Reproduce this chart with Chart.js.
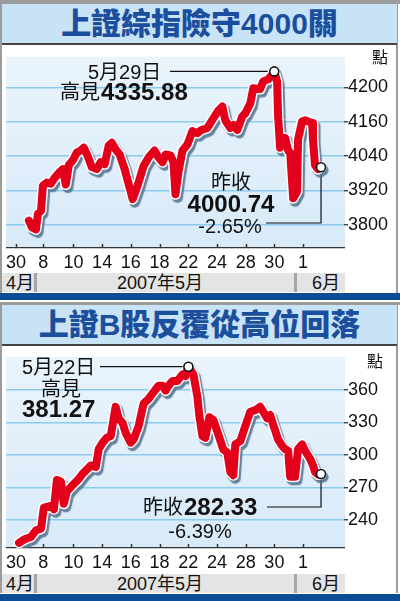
<!DOCTYPE html>
<html>
<head>
<meta charset="utf-8">
<script src="https://cdn.jsdelivr.net/npm/chart.js@4"></script>
<style>
  body { margin: 0; background: #fff; }
  #page { position: relative; width: 400px; height: 601px; overflow: hidden; background: #fff;
          font-family: "Liberation Sans", "Noto Sans CJK TC", sans-serif; color: #111; }
  .edge { position: absolute; background: #9c9c9c; }
  .title { position: absolute; left: 2px; width: 395px; height: 39px; background: #c8e3f6;
           border-bottom: 2px solid #444; color: #1b4e9c; font-weight: 900; font-size: 30px;
           line-height: 40px; text-align: center; white-space: nowrap; }
  canvas { position: absolute; left: 0; }
  .months { position: absolute; left: 2px; width: 343px; height: 19px; background: #e4e4e4;
            font-size: 18px; line-height: 20px; }
  .months span { position: absolute; top: 0; transform: translateX(-50%); white-space: nowrap; }
  .months i { position: absolute; top: 0; width: 3px; height: 19px; background: #a5a5a5; }
  .bar { position: absolute; left: 0; width: 400px; height: 7px; background: #0d4b97; }
</style>
</head>
<body>
<div id="page">
  <div class="edge" style="left:0;top:0;width:400px;height:4px"></div>
  <div class="edge" style="left:0;top:0;width:2px;height:293px"></div>
  <div class="edge" style="left:396px;top:0;width:2px;height:293px"></div>
  <div class="title" style="top:4px">上證綜指險守4000關</div>
  <canvas id="comp-chart" width="400" height="226" style="top:46px"></canvas>
  <div class="months" style="top:273px">
    <span style="left:18px">4月</span><i style="left:32px"></i>
    <span style="left:158px">2007年5月</span><i style="left:292px"></i>
    <span style="left:324px">6月</span>
  </div>
  <div class="bar" style="top:293px"></div>

  <div class="edge" style="left:0;top:302px;width:400px;height:3px"></div>
  <div class="edge" style="left:0;top:302px;width:2px;height:291px"></div>
  <div class="edge" style="left:396px;top:302px;width:2px;height:291px"></div>
  <div class="title" style="top:305px">上證B股反覆從高位回落</div>
  <canvas id="b-chart" width="400" height="226" style="top:346px"></canvas>
  <div class="months" style="top:574px">
    <span style="left:18px">4月</span><i style="left:32px"></i>
    <span style="left:158px">2007年5月</span><i style="left:292px"></i>
    <span style="left:324px">6月</span>
  </div>
  <div class="bar" style="top:594px"></div>
</div>

<script>
// 上證綜指 / 上證B股 - 2007年4月30日至6月1日走勢

// x axis: position in trading days, ticks and their labels
const xTickPos = [0, 1.9, 4, 6, 8, 10, 12, 14, 16, 18, 20];
const xTickLabels = ['30', '8', '10', '14', '16', '18', '22', '24', '28', '30', '1'];

// 上證綜指
const compDays = [0.90, 1.11, 1.39, 1.53, 1.74, 1.875, 2.15, 2.43, 2.64, 2.99,
  3.26, 3.47, 3.68, 3.96, 4.24, 4.51, 4.72, 5.0, 5.28, 5.63,
  5.90, 6.18, 6.46, 6.67, 6.94, 7.22, 7.57, 8.13, 8.47, 8.89,
  9.24, 9.65, 9.93, 10.21, 10.42, 10.76, 10.97, 11.11, 11.32, 11.60,
  11.94, 12.29, 12.64, 12.92, 13.33, 13.75, 14.10, 14.38, 14.58, 14.93,
  15.14, 15.42, 15.76, 15.97, 16.32, 16.53, 17.01, 17.22, 17.57, 17.85,
  17.99, 18.19, 18.26, 18.40, 18.75, 18.96, 19.10, 19.31, 19.58, 19.65,
  19.93, 20.14, 20.35, 20.63, 20.69, 20.83, 21.04, 21.25];
const compValues = [3814, 3790, 3783, 3838, 3848, 3936, 3947, 3943, 3960, 3981,
  3994, 3940, 4008, 4025, 4052, 4059, 4069, 4039, 4001, 3994,
  4018, 4011, 4076, 4086, 4063, 4045, 3994, 3889, 3936, 4005,
  4035, 4059, 4035, 4018, 4045, 4042, 4018, 3906, 3984, 4059,
  4080, 4127, 4120, 4131, 4138, 4172, 4199, 4213, 4165, 4138,
  4148, 4131, 4178, 4189, 4223, 4277, 4274, 4301, 4308, 4325,
  4335.88, 4301, 4178, 4069, 4103, 4059, 4052, 3892, 3916, 4097,
  4161, 4165, 4161, 4155, 4097, 4008, 3994, 4000.74];
const compTicks = [3800, 3920, 4040, 4160, 4280];
const compTickLabels = ['3800', '3920', '4040', '4160', '4200'];

// 上證B股指數
const bDays = [0.21, 0.56, 1.04, 1.39, 1.74, 1.94, 2.43, 2.64, 2.85, 3.13,
  3.33, 3.54, 3.96, 4.31, 4.65, 5.0, 5.21, 5.56, 5.76, 6.04,
  6.32, 6.60, 6.94, 7.15, 7.43, 7.64, 7.99, 8.19, 8.54, 8.89,
  9.24, 9.58, 9.93, 10.21, 10.42, 10.63, 10.90, 11.25, 11.60, 11.81,
  12.01, 12.36, 12.64, 12.78, 12.99, 13.19, 13.47, 13.75, 14.10, 14.44,
  14.72, 14.93, 15.14, 15.28, 15.63, 15.97, 16.32, 16.67, 17.01, 17.22,
  17.5, 17.71, 17.92, 18.26, 18.54, 18.75, 18.96, 19.10, 19.44, 19.65,
  19.93, 20.14, 20.49, 20.69, 20.83, 21.04, 21.25];
const bValues = [219.0, 222.0, 224.4, 230.4, 231.9, 251.3, 252.9, 249.9, 276.9, 275.3,
  254.9, 266.3, 272.4, 276.9, 282.8, 287.3, 290.3, 288.8, 305.3, 311.3,
  315.8, 317.3, 344.3, 333.7, 329.3, 320.3, 311.3, 314.2, 326.3, 347.2,
  351.7, 357.8, 363.7, 363.7, 359.2, 363.7, 368.2, 368.2, 374.2, 372.7,
  381.27, 374.2, 353.3, 335.3, 317.3, 315.8, 334.7, 332.2, 318.7, 305.0,
  302.3, 284.3, 281.3, 309.7, 312.8, 326.3, 339.8, 341.2, 344.3, 339.8,
  333.7, 336.7, 327.7, 314.2, 308.3, 305.3, 303.8, 279.8, 279.8, 305.3,
  309.7, 303.8, 296.3, 290.3, 284.3, 281.9, 282.33];
const bTicks = [240, 270, 300, 330, 360];
const bTickLabels = ['240', '270', '300', '330', '360'];

const FONT = '"Liberation Sans", "Noto Sans CJK TC", sans-serif';
Chart.defaults.font.family = FONT;
Chart.defaults.color = '#111';

function peakIndex(values) {
  return values.indexOf(Math.max(...values));
}

// draw a text, return its width
function text(ctx, str, x, y, align, bold) {
  ctx.save();
  ctx.font = (bold ? 'bold 24px ' : '20px ') + FONT;
  ctx.fillStyle = '#111';
  ctx.textAlign = align;
  ctx.textBaseline = 'middle';
  ctx.fillText(str, x, y);
  const w = ctx.measureText(str).width;
  ctx.restore();
  return w;
}

function connector(ctx, pts) {
  ctx.save();
  ctx.strokeStyle = '#111';
  ctx.lineWidth = 1.2;
  ctx.beginPath();
  pts.forEach(([x, y], i) => (i ? ctx.lineTo(x, y) : ctx.moveTo(x, y)));
  ctx.stroke();
  ctx.restore();
}

function anchors(chart, days, values) {
  const { x, y } = chart.scales;
  const hi = peakIndex(values);
  const last = values.length - 1;
  return {
    hi, last,
    hx: x.getPixelForValue(days[hi]), hy: y.getPixelForValue(values[hi]),
    lx: x.getPixelForValue(days[last]), ly: y.getPixelForValue(values[last])
  };
}

// notes for 上證綜指
function compNotes(chart, phase) {
  const ctx = chart.ctx;
  const a = anchors(chart, compDays, compValues);
  if (phase === 'lines') {
    connector(ctx, [[170, a.hy], [a.hx, a.hy]]);
    connector(ctx, [[a.lx, a.ly], [a.lx, 177], [266, 177]]);
    return;
  }
  text(ctx, '5月29日', 88, 27, 'left', false);
  const w = text(ctx, '高見', 60, 47, 'left', false);
  text(ctx, compValues[a.hi].toFixed(2), 60 + w + 1, 47, 'left', true);
  text(ctx, '昨收', 231, 137, 'center', false);
  text(ctx, compValues[a.last].toFixed(2), 231, 159, 'center', true);
  text(ctx, '-2.65%', 230, 181, 'center', false);
}

// notes for 上證B股
function bNotes(chart, phase) {
  const ctx = chart.ctx;
  const a = anchors(chart, bDays, bValues);
  if (phase === 'lines') {
    connector(ctx, [[100, a.hy], [a.hx, a.hy]]);
    connector(ctx, [[267, 161], [a.lx, 161], [a.lx, a.ly]]);
    return;
  }
  text(ctx, '5月22日', 22, 22, 'left', false);
  text(ctx, '高見', 61, 44, 'center', false);
  text(ctx, bValues[a.hi].toFixed(2), 22, 64, 'left', true);
  const w = text(ctx, '昨收', 143, 162, 'left', false);
  text(ctx, bValues[a.last].toFixed(2), 143 + w + 1, 162, 'left', true);
  text(ctx, '-6.39%', 200, 186, 'center', false);
}

// background, inward x ticks, line shadow, unit and notes
function makeDecor(notes, unitPos) {
  return {
    id: 'decor',
    beforeDraw(chart) {
      const { ctx, chartArea: a } = chart;
      const g = ctx.createLinearGradient(0, a.top, 0, a.bottom);
      g.addColorStop(0, '#e9f4fc');
      g.addColorStop(1, '#d8eaf8');
      ctx.save();
      ctx.fillStyle = g;
      ctx.fillRect(a.left, a.top, a.right - a.left + 1, a.bottom - a.top);
      ctx.restore();
    },
    beforeDatasetsDraw(chart) {
      const { ctx, chartArea: a, scales } = chart;
      ctx.save();
      ctx.strokeStyle = '#333';
      ctx.lineWidth = 1.5;
      xTickPos.forEach(v => {
        const px = Math.round(scales.x.getPixelForValue(v)) + 0.5;
        ctx.beginPath();
        ctx.moveTo(px, a.bottom);
        ctx.lineTo(px, a.bottom - 4);
        ctx.stroke();
      });
      ctx.restore();
      notes(chart, 'lines');
    },
    beforeDatasetDraw(chart, args) {
      if (!chart.data.datasets[args.index].halo) return;
      const ctx = chart.ctx;
      ctx.save();
      ctx.shadowColor = 'rgba(80, 110, 140, 0.85)';
      ctx.shadowOffsetX = 2;
      ctx.shadowOffsetY = 3;
      ctx.shadowBlur = 1;
    },
    afterDatasetDraw(chart, args) {
      if (chart.data.datasets[args.index].halo) chart.ctx.restore();
    },
    afterDraw(chart) {
      const ctx = chart.ctx;
      ctx.save();
      ctx.font = '16px "Noto Sans CJK TC", sans-serif';
      ctx.fillStyle = '#111';
      ctx.textAlign = 'center';
      ctx.textBaseline = 'middle';
      ctx.fillText('點', unitPos[0], unitPos[1]);
      ctx.restore();
      notes(chart, 'text');
    }
  };
}

function makeChart(id, days, values, ticks, tickLabels, yMin, yMax, notes, unitPos) {
  const points = days.map((d, i) => ({ x: d, y: values[i] }));
  const marks = [peakIndex(values), values.length - 1];

  return new Chart(document.getElementById(id), {
    type: 'line',
    data: {
      datasets: [
        {
          label: 'halo',
          halo: true,
          data: points,
          borderColor: '#ffffff',
          borderWidth: 11,
          pointRadius: 0,
          order: 2
        },
        {
          label: 'index',
          data: points,
          borderColor: '#e2001a',
          borderWidth: 8,
          pointRadius: c => (marks.includes(c.dataIndex) ? 4.5 : 0),
          pointBackgroundColor: '#ffffff',
          pointBorderColor: '#111',
          pointBorderWidth: 1.6,
          order: 1
        }
      ]
    },
    options: {
      responsive: false,
      animation: false,
      events: [],
      layout: { padding: { left: 5, top: 6, right: 0, bottom: 0 } },
      elements: {
        line: { tension: 0, borderJoinStyle: 'round', borderCapStyle: 'round' }
      },
      plugins: {
        legend: { display: false },
        tooltip: { enabled: false }
      },
      scales: {
        x: {
          type: 'linear',
          min: -0.69,
          max: 22.85,
          grid: { display: false, drawTicks: false },
          border: { display: true, color: '#333', width: 1.2 },
          afterBuildTicks: s => { s.ticks = xTickPos.map(v => ({ value: v })); },
          afterFit: s => { s.height = 24; },
          ticks: {
            autoSkip: false,
            maxRotation: 0,
            padding: 4,
            color: '#111',
            font: { size: 18 },
            callback: (v, i) => xTickLabels[i]
          }
        },
        y: {
          position: 'right',
          min: yMin,
          max: yMax,
          grid: { color: '#8ccbee', lineWidth: 1.5, tickColor: '#222', tickLength: 4, tickWidth: 1.2 },
          border: { display: false },
          afterBuildTicks: s => { s.ticks = ticks.map(v => ({ value: v })); },
          afterFit: s => { s.width = 56; },
          ticks: {
            padding: 0,
            color: '#111',
            font: { size: 18 },
            callback: (v, i) => tickLabels[i]
          }
        }
      }
    },
    plugins: [makeDecor(notes, unitPos)]
  });
}

makeChart('comp-chart', compDays, compValues, compTicks, compTickLabels, 3718, 4387, compNotes, [380, 11]);
makeChart('b-chart', bDays, bValues, bTicks, bTickLabels, 214.2, 390.4, bNotes, [375, 15]);
</script>
</body>
</html>
